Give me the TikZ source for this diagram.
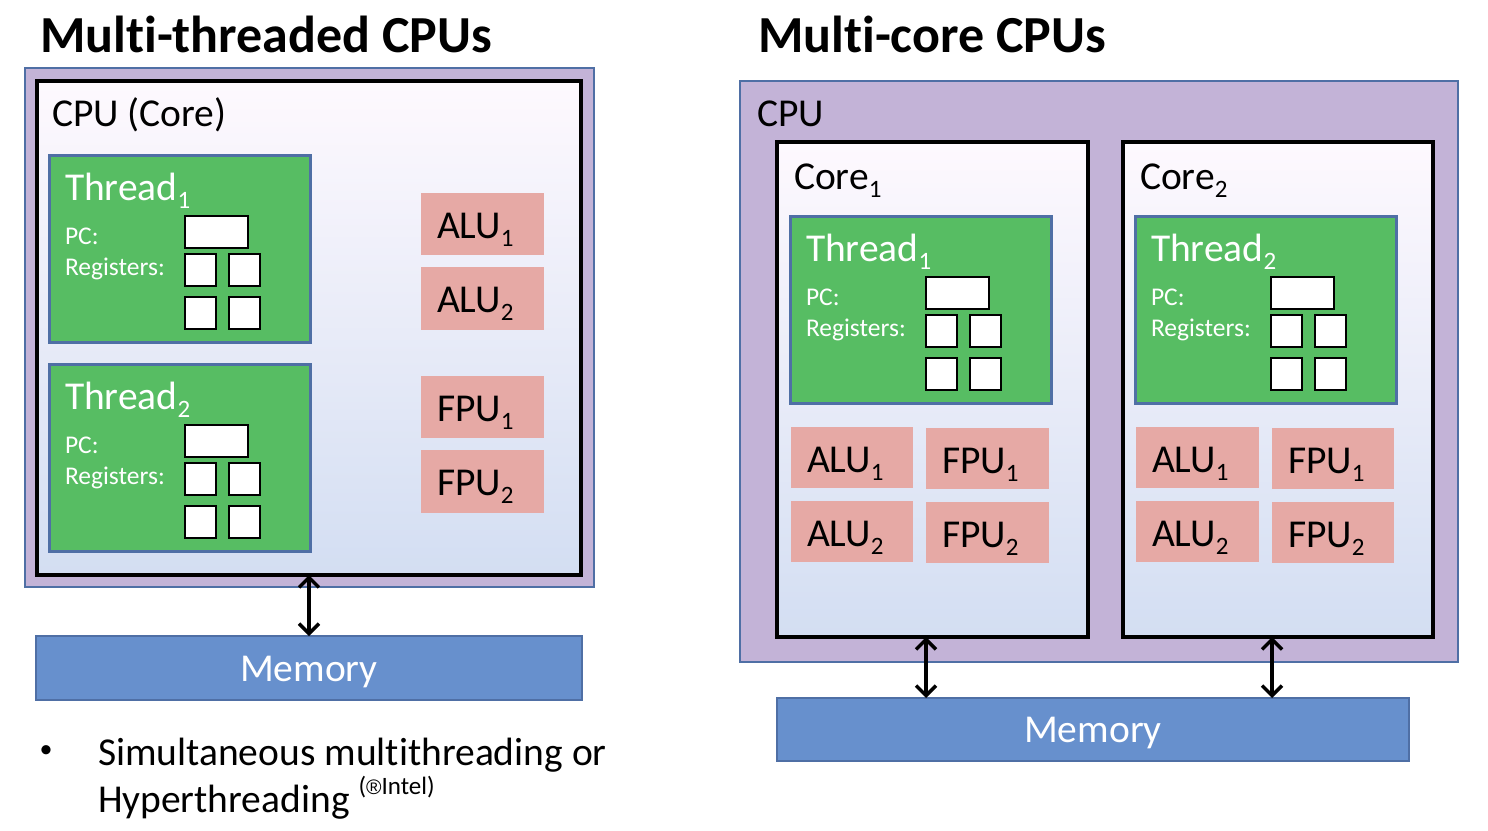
\documentclass[tikz,border=0pt]{standalone}
\usepackage{fontspec}
\setmainfont{Carlito}[Ligatures=CommonOff]
\newfontfamily\regfont{Liberation Sans}
\usetikzlibrary{arrows.meta,calc}
\definecolor{purpleF}{HTML}{C3B3D7}
\definecolor{blueB}{HTML}{4F6FA5}
\definecolor{greenF}{HTML}{57BD63}
\definecolor{pinkF}{HTML}{E6A9A5}
\definecolor{memF}{HTML}{6790CD}
\definecolor{gradTop}{HTML}{FEF9FE}
\definecolor{gradBot}{HTML}{D3DEF2}
\newcommand\lowidx[1]{\raisebox{-0.22em}{\fontsize{25}{25}\selectfont #1}}
\newcommand\rbox[6]{\node[#2, minimum width={(#5)-(#3)}, minimum height={(#6)-(#4)}] (#1) at ({((#3)+(#5))/2},{((#4)+(#6))/2}) {};}
\newcommand\threadblk[4]{%
  \rbox{#1}{threadbox}{#2}{#3}{#2+261}{#3+187}
  \node[whitebig] (#1t) at ({#2+16},{#3+45}) {Thread\lowidx{#4}};
  \node[smalltext] (#1pcl) at ({#2+16},{#3+89}) {PC:};
  \node[smalltext] (#1rl) at ({#2+16},{#3+120}) {Registers:};
  \rbox{#1pc}{regbox}{#2+136}{#3+61}{#2+199}{#3+93}
  \rbox{#1ra}{regbox}{#2+136}{#3+99}{#2+167}{#3+131}
  \rbox{#1rb}{regbox}{#2+180}{#3+99}{#2+211}{#3+131}
  \rbox{#1rc}{regbox}{#2+136}{#3+142}{#2+167}{#3+174}
  \rbox{#1rd}{regbox}{#2+180}{#3+142}{#2+211}{#3+174}
}
\newcommand\unitblk[6]{%
  \rbox{#1}{unitbox}{#2}{#3}{#4}{#5}
  \node[bigtext] (#1t) at ({#2+16},{#3+45}) {#6};
}
\tikzset{
  every node/.style={inner sep=0pt, outer sep=0pt},
  outerbox/.style={draw=blueB, line width=2.5pt, fill=purpleF},
  corebox/.style={draw=black, line width=3.5pt, top color=gradTop, bottom color=gradBot},
  threadbox/.style={draw=blueB, line width=3pt, fill=greenF},
  regbox/.style={draw=black, line width=2pt, fill=white},
  unitbox/.style={fill=pinkF},
  membox/.style={draw=blueB, line width=2pt, fill=memF},
  bigtext/.style={font=\fontsize{39.5}{46}\selectfont, anchor=base west},
  whitebig/.style={bigtext, text=white},
  smalltext/.style={font=\fontsize{25.5}{30}\selectfont, anchor=base west, text=white},
  titletext/.style={font=\fontsize{52}{60}\selectfont\bfseries, anchor=base west},
  biarrow/.style={{Straight Barb[length=10pt,width=20pt]}-{Straight Barb[length=10pt,width=20pt]}, line width=3.5pt}
}
\begin{document}
\begin{tikzpicture}[x=1pt,y=-1pt]
\useasboundingbox[fill=white] (0,0) rectangle (1488,830);
% ---------- left: multi-threaded ----------
\node[titletext] (titleL) at (40,52) {Multi-threaded CPUs};
\rbox{outerL}{outerbox}{25}{68}{594}{587}
\rbox{coreL}{corebox}{37}{81}{581}{575}
\node[bigtext] (coreLt) at (52,126) {CPU (Core)};
\threadblk{thL1}{49}{155}{1}
\threadblk{thL2}{49}{364}{2}
\unitblk{aluL1}{421}{193}{544}{255}{ALU\lowidx{1}}
\unitblk{aluL2}{421}{267}{544}{330}{ALU\lowidx{2}}
\unitblk{fpuL1}{421}{376}{544}{438}{FPU\lowidx{1}}
\unitblk{fpuL2}{421}{450}{544}{513}{FPU\lowidx{2}}
\rbox{memL}{membox}{36}{636}{582}{700}
\node[whitebig, anchor=base] (memLt) at ([yshift=-13pt]memL.center) {Memory};
\draw[biarrow] (coreL.south) -- (memL.north);
\node[font=\fontsize{26}{30}\selectfont, anchor=center] (bullet) at (46,752) {•};
\node[bigtext] (bl1) at (98,765) {Simultaneous multithreading or};
\node[bigtext] (bl2) at (98,812) {Hyperthreading \raisebox{0.45em}{\fontsize{25}{25}\selectfont({\regfont\fontsize{21}{21}\selectfont ®}Intel)}};
% ---------- right: multi-core ----------
\node[titletext] (titleR) at (758,52) {Multi-core CPUs};
\rbox{outerR}{outerbox}{740}{81}{1458}{662}
\node[bigtext] (cpuRt) at (757,126) {CPU};
\rbox{core1}{corebox}{777}{142}{1088}{637}
\rbox{core2}{corebox}{1123}{142}{1433}{637}
\node[bigtext] (core1t) at (794,189) {Core\lowidx{1}};
\node[bigtext] (core2t) at (1140,189) {Core\lowidx{2}};
\threadblk{thR1}{790}{216}{1}
\threadblk{thR2}{1135}{216}{2}
\unitblk{aluA1}{791}{427}{913}{488}{ALU\lowidx{1}}
\unitblk{fpuA1}{926}{428}{1049}{489}{FPU\lowidx{1}}
\unitblk{aluA2}{791}{501}{913}{562}{ALU\lowidx{2}}
\unitblk{fpuA2}{926}{502}{1049}{563}{FPU\lowidx{2}}
\unitblk{aluB1}{1136}{427}{1259}{488}{ALU\lowidx{1}}
\unitblk{fpuB1}{1272}{428}{1394}{489}{FPU\lowidx{1}}
\unitblk{aluB2}{1136}{501}{1259}{562}{ALU\lowidx{2}}
\unitblk{fpuB2}{1272}{502}{1394}{563}{FPU\lowidx{2}}
\rbox{memR}{membox}{777}{698}{1409}{761}
\node[whitebig, anchor=base] (memRt) at ([yshift=-13pt]memR.center) {Memory};
\draw[biarrow] (fpuA1.west |- core1.south) -- (fpuA1.west |- memR.north);
\draw[biarrow] (fpuB1.west |- core2.south) -- (fpuB1.west |- memR.north);
\end{tikzpicture}
\end{document}
